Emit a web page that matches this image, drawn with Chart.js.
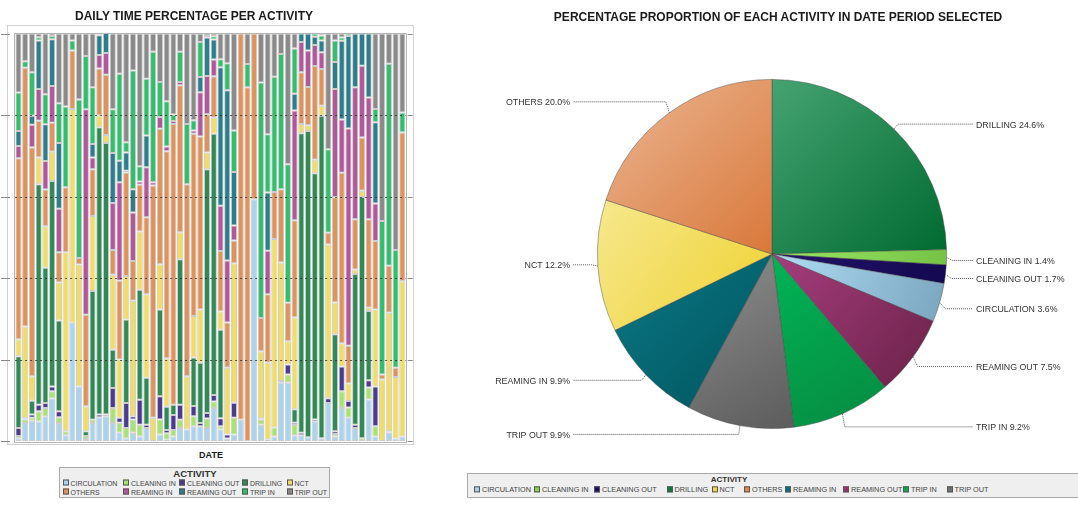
<!DOCTYPE html>
<html><head><meta charset="utf-8">
<script src="https://cdn.jsdelivr.net/npm/chart.js@4.4.0/dist/chart.umd.min.js"></script>
<style>
body{margin:0;background:#fff;font-family:"Liberation Sans",Arial,sans-serif;}
#wrap{position:relative;width:1078px;height:516px;overflow:hidden;background:#fff;}
.t{position:absolute;font-weight:bold;color:#1a1a1a;white-space:nowrap;transform:translate(-50%,-50%);}
#frame{position:absolute;left:7px;top:25px;width:407px;height:420px;border:1px solid #d2d2d2;box-sizing:border-box;}
#barc{position:absolute;left:0;top:0;}
#piec{position:absolute;left:440px;top:30px;}
.leg{position:absolute;background:#efefef;border:1px solid #a9a9a9;box-sizing:border-box;}
.li{position:absolute;color:#444;white-space:nowrap;line-height:1;transform:translateY(-50%);}
.li i{display:inline-block;width:4px;height:4px;border:1px solid #555;margin-right:2px;vertical-align:0px;}
</style></head>
<body><div id="wrap">
<div id="frame"></div>
<canvas id="barc" width="420" height="450"></canvas>
<canvas id="piec" width="638" height="420"></canvas>
<div class="t" style="left:194px;top:16px;font-size:12px;">DAILY TIME PERCENTAGE PER ACTIVITY</div>
<div class="t" style="left:778px;top:17px;font-size:12px;">PERCENTAGE PROPORTION OF EACH ACTIVITY IN DATE PERIOD SELECTED</div>
<div class="t" style="left:211px;top:455px;font-size:9px;">DATE</div>
<div class="leg" style="left:59px;top:467px;width:271px;height:31px;"></div>
<div class="t" style="left:195px;top:473px;font-size:9.5px;color:#333;">ACTIVITY</div>
<div class="leg" style="left:467px;top:473px;width:640px;height:25px;"></div>
<div class="t" style="left:729px;top:479px;font-size:8px;color:#333;">ACTIVITY</div>
<div id="legs"></div>
</div>
<script>
// ---------- DATA ----------
const activities = ["CIRCULATION","CLEANING IN","CLEANING OUT","DRILLING","NCT","OTHERS","REAMING IN","REAMING OUT","TRIP IN","TRIP OUT"];
const dates = ["1","2","3","4","5","6","7","8","9","10","11","12","13","14","15","16","17","18","19","20","21","22","23","24","25","26","27","28","29","30","31","32","33","34","35","36","37","38","39","40","41","42","43","44","45","46","47","48","49","50","51","52","53","54","55","56","57","58"];
const circulation = [0.6,4.4,5.0,4.8,6.1,10.4,4.4,1.4,29.0,13.4, 0.5,4.4,5.8,6.1,4.4,2.0,0.7,2.0,1.1,3.2, 0,1.6,0.3,1.1,3.2,2.8,3.6,3.6,3.2,8.1, 2.8,0.6,1.6,5.2,0,59.3,4.0,0.3,1.1,14.3, 14.3,1.4,1.4,0.9,4.7,0.7,9.3,1.1,8.1,5.7, 3.2,0,10.2,1.1,0,2.0,0.6,1.1];
const cleaningIn = [0.6,0.8,0.7,2.5,2.0,1.8,1.4,1.0,0,0, 0.7,0.8,0,0,3.7,2.5,2.5,3.3,2.9,0, 0,3.7,1.6,1.6,2.0,0,2.5,0,2.3,1.6, 0.8,0,4.1,0,0,0,1.2,0,2.2,0, 2.0,2.5,0,0,0,0,0,0.6,4.1,2.5, 0,0.7,2.9,2.5,0,0,0,0];
const cleaningOut = [2.0,0,0.8,1.6,1.2,1.2,1.5,0,0,0, 0,0,0.7,0.4,4.9,1.2,6.1,0.8,6.1,0.8, 0,5.7,0.8,3.7,3.7,0,2.5,0.8,1.4,1.6, 2.0,1.0,3.7,0,0,0,0.4,0,0,0.4, 2.5,0.6,0.6,0,0.6,0,1.2,0.7,6.1,1.6, 0.8,0,1.8,9.8,0,0.4,0,0];
const drilling = [17.6,0.4,3.4,54.1,33.2,50.4,22.3,0,0,0, 1.2,31.6,70.5,66.6,9.4,0,20.5,0,27.0,11.5, 0,21.3,5.7,2.5,35.7,0,11.9,14.8,59.8,64.1, 21.7,0,0,0,0,0,0,0,0,0, 0,3.3,73.5,75.2,60.4,79.1,0,23.8,0,0, 37.0,59.2,17.0,0,0,0,0,0];
const nct = [4.1,22.5,6.0,6.6,10.2,7.2,9.3,43.9,52.5,29.9, 6.1,18.4,2.9,2.0,18.4,14.3,10.7,28.3,14.3,20.5, 5.7,11.1,11.9,0,6.6,13.1,10.2,13.1,4.1,3.9, 4.5,16.4,34.2,0,0,0,16.4,18.9,46.3,29.1, 5.7,22.5,2.3,1.4,3.3,2.5,37.7,7.8,5.7,4.3, 1.1,1.5,0.8,18.9,15.1,29.1,15.1,38.1];
const others = [44.5,63.5,56.1,9.0,9.0,7.1,7.4,16.0,14.3,1.6, 22.5,11.5,11.5,14.8,6.1,19.3,25.4,9.8,11.5,18.9, 57.0,33.2,50.8,68.9,36.1,47.1,44.7,42.4,9.4,10.2, 14.8,11.1,5.6,94.8,86.8,40.7,8.2,16.8,11.5,18.0, 9.4,23.9,12.7,9.4,23.0,9.0,2.9,25.8,41.8,9.3, 12.3,13.1,21.7,16.8,1.2,11.5,2.3,36.5];
const reamingIn = [3.0,0,5.6,7.8,7.0,9.0,10.7,0,0,0, 50.4,2.9,3.3,5.3,11.5,24.2,0.4,11.9,0.8,12.3, 0.8,2.9,1.2,0.7,0.8,0,0.8,10.9,9.4,4.1, 11.1,15.2,3.7,0,0,0,0,10.7,0,0, 0,26.9,7.4,8.9,5.2,4.1,0,26.6,13.1,53.3, 32.4,17.6,29.9,9.2,0,0,0,0];
const reamingOut = [3.7,0,2.2,11.9,9.0,11.5,16.1,0,0,0, 0,3.3,4.9,4.9,12.3,5.3,4.5,5.7,0,7.8, 0,0,0,0,0,0,0,3.7,9.4,4.9, 34.0,41.8,13.1,0,0,0,0,14.3,0,0, 0,4.1,2.1,4.2,2.0,2.9,0,6.6,19.3,22.7, 13.2,7.9,15.7,19.9,0,0,0,0];
const tripIn = [9.4,1.6,10.7,0.8,7.4,0.8,9.8,19.8,2.5,38.9, 13.1,13.9,0.2,0,10.7,21.3,2.5,29.1,3.7,13.9, 32.0,8.6,11.1,1.6,7.4,14.8,2.5,8.6,0.4,0.8, 2.0,6.6,10.2,0,5.7,0,57.8,14.3,28.3,33.2, 34.0,11.1,0,0,0.8,1.2,20.5,5.3,0.8,0.6, 0,0,0,3.3,37.7,49.6,28.9,4.9];
const tripOut = [14.5,6.8,9.5,0.9,14.9,0.6,17.1,17.9,1.7,16.2, 5.5,13.2,0.2,0,18.6,9.9,26.7,9.1,32.6,11.1, 4.5,11.9,16.6,19.9,4.5,22.2,21.3,2.1,0.6,0.7, 6.3,7.3,23.8,0,7.5,0,12.0,24.7,10.6,5.0, 32.1,3.7,0,0,0,0.5,28.4,1.7,1.0,0, 0,0,0,18.5,46.0,7.4,53.1,19.4];
const pieLabels = ["DRILLING","CLEANING IN","CLEANING OUT","CIRCULATION","REAMING OUT","TRIP IN","TRIP OUT","REAMING IN","NCT","OTHERS"];
const pieValues = [24.6,1.4,1.7,3.6,7.5,9.2,9.9,9.9,12.2,20.0];

// ---------- STYLES ----------
const barColors = ["#a9d3ee","#a6e36f","#4b3b8f","#2f8a56","#f1dc65","#e0925b","#b3579b","#2b7e8b","#32bf6d","#8a8a8a"];
const pieColorMap = {
  "DRILLING":["#45a372","#006a30"], "CLEANING IN":["#9ce864","#76c246"], "CLEANING OUT":["#24146a","#140850"],
  "CIRCULATION":["#b0dcf4","#7aa5be"], "REAMING OUT":["#a63d7e","#6a2248"], "TRIP IN":["#00b454","#078a42"],
  "TRIP OUT":["#8e8e8e","#5c5c5c"], "REAMING IN":["#0b7884","#00545e"], "NCT":["#f6e88e","#efd12e"], "OTHERS":["#ebb692","#d9783a"]
};
const legendPieColors = {"CIRCULATION":"#a8d2ea","CLEANING IN":"#86d452","CLEANING OUT":"#1a0c5c","DRILLING":"#0b7a3c","NCT":"#f0d84a","OTHERS":"#e0894a","REAMING IN":"#0a6c78","REAMING OUT":"#98306c","TRIP IN":"#0aa84e","TRIP OUT":"#707070"};

const series = [circulation,cleaningIn,cleaningOut,drilling,nct,others,reamingIn,reamingOut,tripIn,tripOut];

// ---------- LEGENDS (HTML text) ----------
const legs = document.getElementById('legs');
function addItem(x,y,name,color,size){
  const d=document.createElement('div'); d.className='li';
  d.style.left=x+'px'; d.style.top=y+'px'; d.style.fontSize=size+'px';
  d.innerHTML='<i style="background:'+color+'"></i>'+name;
  legs.appendChild(d);
}
const leftCols=[62.5,123,179,242,286.5], leftRows=[483.3,491.7];
activities.forEach((a,i)=>addItem(leftCols[i%5],leftRows[Math.floor(i/5)],a,barColors[i],7));
const rightCols=[474,534,594,666.5,711.5,744,785,843,903,946.5];
activities.forEach((a,i)=>addItem(rightCols[i],490,a,legendPieColors[a],7.3));

// ---------- BAR CHART ----------
const barDeco = {
  id:'barDeco',
  afterDatasetsDraw(chart){
    const c=chart.ctx, y=chart.scales.y, a=chart.chartArea;
    c.save();
    c.strokeStyle='rgba(40,40,40,0.75)'; c.lineWidth=1; c.setLineDash([2,3]);
    [20,40,60,80].forEach(v=>{const p=Math.round(y.getPixelForValue(v))+0.5; c.beginPath(); c.moveTo(a.left,p); c.lineTo(a.right,p); c.stroke();});
    c.setLineDash([]);
    c.strokeStyle='#b5b5b5';
    c.strokeRect(Math.round(a.left)-0.5, Math.round(a.top)-0.5, Math.round(a.right-a.left)+1, Math.round(a.bottom-a.top)+1);
    c.strokeStyle='#8a8a8a';
    [0,20,40,60,80,100].forEach(v=>{const p=Math.round(y.getPixelForValue(v))+0.5;
      c.beginPath(); c.moveTo(1,p); c.lineTo(10,p); c.stroke();
      c.beginPath(); c.moveTo(a.right+2,p); c.lineTo(a.right+7,p); c.stroke();});
    c.restore();
  }
};
new Chart(document.getElementById('barc'),{
  type:'bar',
  data:{labels:dates, datasets:activities.map((name,i)=>({
    label:name, data:series[i], backgroundColor:barColors[i],
    borderColor:'rgba(0,0,0,0.2)', borderWidth:(c)=>c.raw>0?1:0, borderSkipped:false,
    categoryPercentage:1, barPercentage:0.92
  }))},
  options:{responsive:false, animation:false, devicePixelRatio:1,
    layout:{padding:{left:15.1,right:14.3,top:33.5,bottom:9}},
    plugins:{legend:{display:false},tooltip:{enabled:false}},
    scales:{x:{stacked:true,display:false}, y:{stacked:true,display:false,min:0,max:100}}},
  plugins:[barDeco]
});

// ---------- PIE CHART ----------
function pieFill(ctx){
  const chart=ctx.chart, ca=chart.chartArea, name=pieLabels[ctx.dataIndex], col=pieColorMap[name];
  if(!ca) return col[1];
  const cx=(ca.left+ca.right)/2, cy=(ca.top+ca.bottom)/2, r=Math.min(ca.right-ca.left,ca.bottom-ca.top)/2;
  const total=pieValues.reduce((s,v)=>s+v,0);
  let cum=0; for(let i=0;i<ctx.dataIndex;i++) cum+=pieValues[i];
  const a0=-Math.PI/2+cum/total*2*Math.PI, a1=a0+pieValues[ctx.dataIndex]/total*2*Math.PI;
  const xs=[cx], ys=[cy];
  for(let k=0;k<=24;k++){const a=a0+(a1-a0)*k/24; xs.push(cx+r*Math.cos(a)); ys.push(cy+r*Math.sin(a));}
  const g=chart.ctx.createLinearGradient(Math.min(...xs),Math.min(...ys),Math.max(...xs),Math.max(...ys));
  g.addColorStop(0,col[0]); g.addColorStop(1,col[1]);
  return g;
}
const pieLabelPlugin = {
  id:'pieLabelPlugin',
  afterDraw(chart){
    const c=chart.ctx, meta=chart.getDatasetMeta(0);
    const items=meta.data.map((el,i)=>{
      const mid=(el.startAngle+el.endAngle)/2, r=el.outerRadius;
      const right=Math.cos(mid)>=0;
      return {i, el, mid, r, right, px:el.x+r*Math.cos(mid), py:el.y+r*Math.sin(mid),
        qx:el.x+(r+6)*Math.cos(mid), ly:el.y+(r+11)*Math.sin(mid)+(right?3:-2)};
    });
    [true,false].forEach(side=>{
      const s=items.filter(o=>o.right===side).sort((a,b)=>a.ly-b.ly);
      for(let k=1;k<s.length;k++) if(s[k].ly-s[k-1].ly<15) s[k].ly=s[k-1].ly+15;
    });
    c.save();
    c.font='8.8px "Liberation Sans", Arial, sans-serif';
    c.fillStyle='#333'; c.textBaseline='middle';
    items.forEach(o=>{
      const cx=o.el.x, tx=o.right?cx+204:cx-202;
      c.strokeStyle='#555'; c.lineWidth=1; c.setLineDash([1,1]);
      c.beginPath(); c.moveTo(o.px,o.py); c.lineTo(o.qx,o.ly); c.lineTo(o.right?tx-3:tx+3,o.ly); c.stroke();
      c.setLineDash([]);
      c.textAlign=o.right?'left':'right';
      c.fillText(pieLabels[o.i]+' '+pieValues[o.i].toFixed(1)+'%', tx, o.ly+1);
    });
    c.restore();
  }
};
new Chart(document.getElementById('piec'),{
  type:'pie',
  data:{labels:pieLabels, datasets:[{data:pieValues, backgroundColor:pieFill, borderColor:'rgba(70,70,70,0.55)', borderWidth:0.8}]},
  options:{responsive:false, animation:false, devicePixelRatio:1,
    layout:{padding:{left:157,right:131,top:49,bottom:21}},
    plugins:{legend:{display:false},tooltip:{enabled:false}}},
  plugins:[pieLabelPlugin]
});
</script>
</body></html>
